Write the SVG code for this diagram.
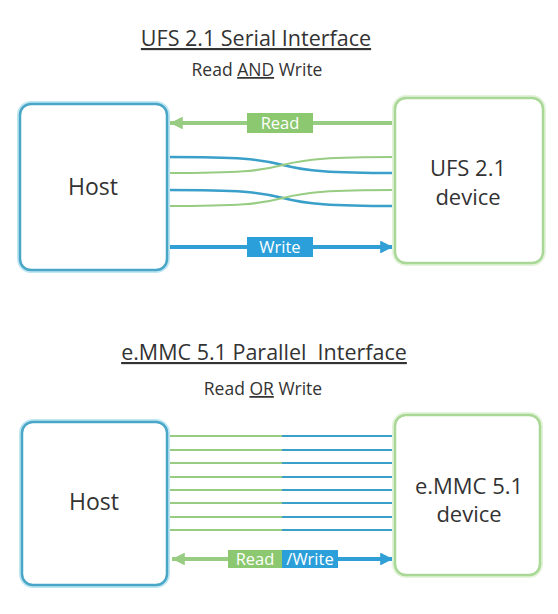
<svg xmlns="http://www.w3.org/2000/svg" width="558" height="614" viewBox="0 0 558 614">
<defs>
<style>
.t{font-family:"Open Sans","Noto Sans","DejaVu Sans",sans-serif;fill:#333;}
.title{font-size:21.5px;text-anchor:middle;white-space:pre;}
.sub{font-size:17.5px;text-anchor:middle;}
.node{font-size:23px;text-anchor:middle;}
.dnode{font-size:22px;text-anchor:middle;}
.u{text-decoration:underline;}
.host{fill:#fff;stroke:#4aa6c6;stroke-width:2.5;}
.glow{fill:none;stroke:#bfe6f3;stroke-width:6;}
.dev{fill:#fff;stroke:#a9d896;stroke-width:2.5;}
.dglow{fill:none;stroke:#e3f3da;stroke-width:6;}
.g{stroke:#98cc82;fill:none;}
.b{stroke:#3a9fc9;fill:none;}
.lbl{font-family:"Open Sans","Noto Sans","DejaVu Sans",sans-serif;font-size:16.5px;fill:#fff;text-anchor:middle;}
</style>
<marker id="ag" viewBox="0 0 10 10" refX="10" refY="5" markerWidth="3.2" markerHeight="3.2" orient="auto-start-reverse" markerUnits="strokeWidth"><path d="M0,0 L10,5 L0,10 z" fill="#98cc82"/></marker>
<marker id="ab" viewBox="0 0 10 10" refX="10" refY="5" markerWidth="3.2" markerHeight="3.2" orient="auto-start-reverse" markerUnits="strokeWidth"><path d="M0,0 L10,5 L0,10 z" fill="#2f9fd6"/></marker>
</defs>
<rect width="558" height="614" fill="#fff"/>

<g id="title1">
<text class="t title u" x="256" y="46">UFS 2.1 Serial Interface</text>
<text class="t sub" x="257" y="76">Read <tspan class="u">AND</tspan> Write</text>
</g>

<g id="connectors1">
<line x1="395" y1="123" x2="170" y2="123" stroke="#98cc82" stroke-width="4" marker-end="url(#ag)"/>
<path class="b" stroke-width="2.4" d="M167,157 C240,157 260,159 283,165 C306,171 330,173 395,173"/>
<path class="g" stroke-width="2.2" d="M167,173 C240,173 260,171 283,165 C306,159 330,157 395,157"/>
<path class="b" stroke-width="2.4" d="M167,190 C240,190 260,192 283,198 C306,204 330,206 395,206"/>
<path class="g" stroke-width="2.2" d="M167,206 C240,206 260,204 283,198 C306,192 330,190 395,190"/>
<line x1="167" y1="247" x2="393" y2="247" stroke="#2f9fd6" stroke-width="4" marker-end="url(#ab)"/>
<rect x="247" y="113" width="66" height="20" fill="#8cc86f"/>
<text class="lbl" x="280" y="129">Read</text>
<rect x="247" y="237" width="66" height="20" fill="#2a9fda"/>
<text class="lbl" x="280" y="253">Write</text>
</g>

<g id="host1">
<rect class="glow" x="20" y="104" width="147" height="166" rx="11"/>
<rect class="host" x="20" y="104" width="147" height="166" rx="11"/>
<text class="t node" x="93" y="195">Host</text>
</g>

<g id="ufs">
<rect class="dglow" x="395" y="98" width="148" height="165" rx="11"/>
<rect class="dev" x="395" y="98" width="148" height="165" rx="11"/>
<text class="t dnode" x="468" y="176">UFS 2.1</text>
<text class="t dnode" x="468" y="205">device</text>
</g>

<g id="title2">
<text class="t title u" x="264" y="360">e.MMC 5.1 Parallel  Interface</text>
<text class="t sub" x="263" y="395">Read <tspan class="u">OR</tspan> Write</text>
</g>

<g id="connectors2">
<g stroke-width="2.2">
<line class="g" x1="167" y1="436" x2="282" y2="436"/><line class="b" x1="282" y1="436" x2="395" y2="436"/>
<line class="g" x1="167" y1="450" x2="282" y2="450"/><line class="b" x1="282" y1="450" x2="395" y2="450"/>
<line class="g" x1="167" y1="463" x2="282" y2="463"/><line class="b" x1="282" y1="463" x2="395" y2="463"/>
<line class="g" x1="167" y1="477" x2="282" y2="477"/><line class="b" x1="282" y1="477" x2="395" y2="477"/>
<line class="g" x1="167" y1="490" x2="282" y2="490"/><line class="b" x1="282" y1="490" x2="395" y2="490"/>
<line class="g" x1="167" y1="503" x2="282" y2="503"/><line class="b" x1="282" y1="503" x2="395" y2="503"/>
<line class="g" x1="167" y1="517" x2="282" y2="517"/><line class="b" x1="282" y1="517" x2="395" y2="517"/>
<line class="g" x1="167" y1="530" x2="282" y2="530"/><line class="b" x1="282" y1="530" x2="395" y2="530"/>
</g>
<line x1="282" y1="559" x2="172" y2="559" stroke="#98cc82" stroke-width="4" marker-end="url(#ag)"/>
<line x1="282" y1="559" x2="393" y2="559" stroke="#2f9fd6" stroke-width="4" marker-end="url(#ab)"/>
<rect x="228" y="550" width="54" height="18" fill="#8cc86f"/>
<text class="lbl" x="255" y="565">Read</text>
<rect x="282" y="550" width="56" height="18" fill="#2a9fda"/>
<text class="lbl" x="310" y="565">/Write</text>
</g>

<g id="host2">
<rect class="glow" x="22" y="422" width="145" height="163" rx="11"/>
<rect class="host" x="22" y="422" width="145" height="163" rx="11"/>
<text class="t node" x="94" y="510">Host</text>
</g>

<g id="emmc">
<rect class="dglow" x="395" y="415" width="145" height="160" rx="11"/>
<rect class="dev" x="395" y="415" width="145" height="160" rx="11"/>
<text class="t dnode" x="469" y="494">e.MMC 5.1</text>
<text class="t dnode" x="469" y="522">device</text>
</g>
</svg>
